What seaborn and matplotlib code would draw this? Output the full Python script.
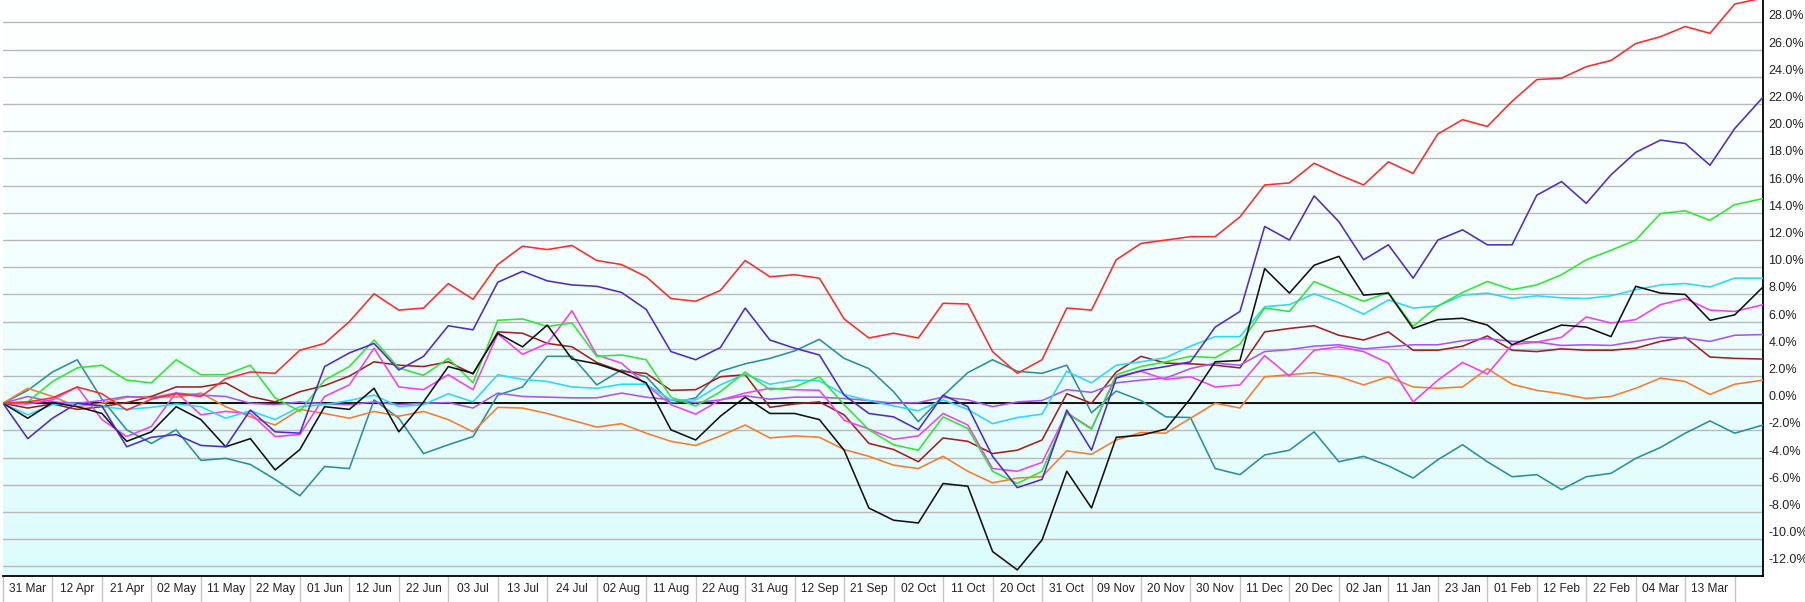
import numpy as np
import pandas as pd
import matplotlib
matplotlib.use("Agg")
import matplotlib.pyplot as plt
import seaborn as sns
from matplotlib.colors import LinearSegmentedColormap
from matplotlib.ticker import FixedLocator, FuncFormatter

# ---------------- data ----------------
date_labels = ["31 Mar", "12 Apr", "21 Apr", "02 May", "11 May", "22 May", "01 Jun",
               "12 Jun", "22 Jun", "03 Jul", "13 Jul", "24 Jul", "02 Aug", "11 Aug",
               "22 Aug", "31 Aug", "12 Sep", "21 Sep", "02 Oct", "11 Oct", "20 Oct",
               "31 Oct", "09 Nov", "20 Nov", "30 Nov", "11 Dec", "20 Dec", "02 Jan",
               "11 Jan", "23 Jan", "01 Feb", "12 Feb", "22 Feb", "04 Mar", "13 Mar"]
DAYS_PER_LABEL = 7          # trading days between two date labels
LAST_DAY = 249              # index of the last trading day

# trading-day index of each sampled value
sample_day = list(np.arange(0, 246, 3.5)) + [249]

red = [0, 0.1, 0.4, 1.2, 0.7, -0.5, 0.3, 0.7, 0.5, 1.8, 2.3, 2.2, 3.9, 4.4, 6.0,
       8.05, 6.85, 7.0, 8.8, 7.65, 10.2, 11.55, 11.3, 11.6, 10.5, 10.2, 9.3, 7.7, 7.5, 8.3,
       10.5, 9.3, 9.45, 9.2, 6.2, 4.8, 5.15, 4.8, 7.35, 7.3, 3.8, 2.2, 3.2, 7.0,
       6.85, 10.55, 11.75, 12.0, 12.25, 12.25, 13.7, 16.05, 16.2, 17.65, 16.8, 16.05, 17.75, 16.9, 19.8,
       20.85, 20.35, 22.2, 23.8, 23.9, 24.75, 25.2, 26.45, 26.95, 27.7, 27.2, 29.35, 29.8]
blue = [0, -2.6, -1.1, 0.0, -0.2, -3.2, -2.5, -2.3, -3.1, -3.2, -0.5, -2.1, -2.2, 2.7, 3.7,
        4.4, 2.45, 3.45, 5.7, 5.4, 8.9, 9.7, 9.0, 8.7, 8.6, 8.15, 6.9, 3.8, 3.2, 4.1,
        7.0, 4.65, 4.05, 3.55, 0.6, -0.75, -1.0, -1.95, 0.6, -0.25, -3.9, -6.2, -5.6, -0.5,
        -3.45, 1.85, 2.4, 2.7, 3.05, 5.6, 6.75, 13.0, 12.0, 15.25, 13.35, 10.55, 11.65, 9.2, 12.0,
        12.75, 11.65, 11.65, 15.3, 16.3, 14.7, 16.8, 18.45, 19.35, 19.1, 17.5, 20.2, 22.5]
green = [0, 0.1, 1.6, 2.6, 2.8, 1.7, 1.5, 3.2, 2.1, 2.1, 2.8, 0.4, -0.6, 1.7, 2.7,
         4.65, 2.6, 2.05, 3.3, 1.5, 6.1, 6.2, 5.65, 5.9, 3.45, 3.55, 3.2, 0.45, -0.2, 0.85,
         2.3, 1.0, 1.2, 1.95, -0.1, -1.95, -3.05, -3.45, -1.0, -1.85, -5.0, -5.9, -5.0, -0.75,
         -1.9, 2.1, 2.7, 3.05, 3.45, 3.35, 4.35, 7.0, 6.75, 8.95, 8.2, 7.5, 8.15, 5.65, 7.15,
         8.15, 8.95, 8.35, 8.7, 9.45, 10.55, 11.25, 12.0, 13.95, 14.15, 13.45, 14.6, 15.05]
cyan = [0, -0.85, -0.1, 0, -0.25, -0.45, -0.3, -0.05, -0.25, -1.1, -0.55, -1.2, -0.25, -0.1, 0.2,
        0.6, -0.25, -0.1, 0.7, 0.1, 2.1, 1.75, 1.6, 1.2, 1.1, 1.4, 1.4, 0.25, 0.25, 1.35,
        2.15, 1.4, 1.7, 1.65, 0.65, 0.2, -0.2, -0.55, 0.25, -0.45, -1.5, -1.05, -0.8, 2.35,
        1.5, 2.8, 3.05, 3.35, 4.2, 4.9, 4.9, 7.1, 7.25, 8.05, 7.4, 6.55, 7.6, 7.0, 7.15,
        7.95, 8.1, 7.7, 7.9, 7.75, 7.7, 7.9, 8.35, 8.7, 8.8, 8.55, 9.2, 9.2]
black = [0, -1.1, 0.05, -0.25, -0.75, -2.8, -2.1, -0.25, -1.2, -3.2, -2.6, -4.9, -3.4, -0.25, -0.45,
         1.1, -2.1, 0.1, 2.7, 2.2, 5.15, 4.15, 5.75, 3.25, 2.9, 2.3, 1.5, -1.95, -2.7, -0.95,
         0.45, -0.75, -0.75, -1.2, -3.45, -7.7, -8.6, -8.8, -5.9, -6.1, -10.9, -12.25, -10.05, -5.0,
         -7.7, -2.5, -2.35, -1.9, 0.35, 3.05, 3.15, 9.9, 8.1, 10.15, 10.8, 7.95, 8.1, 5.5, 6.15,
         6.25, 5.75, 4.3, 5.05, 5.75, 5.6, 4.9, 8.6, 8.1, 8.0, 6.1, 6.5, 8.55]
magenta = [0, -0.05, 0.25, 1.2, -1.2, -2.45, -1.7, 0.8, -0.85, -0.6, -0.75, -2.45, -2.3, 0.5, 1.35,
           4.05, 1.2, 1.0, 2.1, 1.0, 5.1, 3.6, 4.4, 6.8, 3.55, 2.95, 1.35, -0.1, -0.8, 0.25,
           0.75, 1.1, 1.0, 0.95, -1.25, -1.9, -2.65, -2.4, -0.75, -1.6, -4.8, -5.0, -4.35, -0.7,
           -1.85, 1.95, 2.35, 1.75, 1.95, 1.2, 1.35, 3.5, 2.0, 3.9, 4.15, 3.8, 2.95, 0.1, 1.7,
           3.0, 2.15, 4.3, 4.5, 4.85, 6.35, 5.9, 6.15, 7.25, 7.7, 6.85, 6.75, 7.25]
purple = [0, 0.5, 0.1, 0.0, 0.2, 0.5, 0.4, 0.75, 0.6, 0.5, 0.0, -0.1, 0.1, -0.05, -0.1,
          0.1, -0.1, 0.0, 0.05, -0.35, 0.75, 0.5, 0.45, 0.4, 0.4, 0.75, 0.45, 0.25, 0.05, 0.25,
          0.55, 0.3, 0.45, 0.45, 0.35, 0.2, 0.0, 0.05, 0.45, 0.25, -0.25, 0.1, 0.2, 1.0,
          0.8, 1.5, 1.7, 1.85, 2.55, 2.95, 2.8, 3.8, 3.95, 4.2, 4.3, 4.0, 4.15, 4.3, 4.3,
          4.6, 4.75, 4.55, 4.5, 4.25, 4.3, 4.25, 4.55, 4.85, 4.8, 4.55, 5.0, 5.05]
darkred = [0, -0.35, -0.05, -0.45, -0.25, 0.05, 0.5, 1.2, 1.2, 1.5, 0.5, 0.1, 0.85, 1.3, 2.0,
           3.05, 2.8, 2.7, 3.05, 2.15, 5.25, 5.15, 4.4, 4.15, 3.0, 2.35, 2.2, 0.95, 1.0, 1.95,
           2.1, -0.3, -0.05, 0.1, -0.85, -2.95, -3.4, -4.3, -2.55, -2.8, -3.7, -3.45, -2.7, 0.7,
           0.0, 2.3, 3.45, 2.95, 2.9, 2.8, 2.6, 5.25, 5.5, 5.7, 5.0, 4.65, 5.25, 3.9, 3.9,
           4.2, 4.95, 3.9, 3.8, 4.0, 3.9, 3.9, 4.05, 4.55, 4.85, 3.4, 3.3, 3.25]
orange = [0, 1.1, 0.5, -0.25, 0, 0.45, 0.5, 0.45, 0.75, -0.25, -1.0, -1.6, -0.45, -0.75, -1.1,
          -0.6, -0.95, -0.6, -1.2, -2.1, -0.3, -0.35, -0.75, -1.25, -1.75, -1.5, -2.2, -2.8, -3.1, -2.4,
          -1.6, -2.55, -2.4, -2.5, -3.4, -3.9, -4.55, -4.8, -3.9, -5.0, -5.85, -5.5, -5.4, -3.5,
          -3.75, -2.7, -2.15, -2.2, -1.1, 0.0, -0.35, 1.95, 2.1, 2.25, 1.95, 1.35, 1.95, 1.2, 1.1,
          1.2, 2.55, 1.4, 0.95, 0.7, 0.35, 0.5, 1.1, 1.85, 1.6, 0.65, 1.4, 1.7]
teal = [0, 0.95, 2.3, 3.2, 0.3, -1.95, -2.95, -1.95, -4.2, -4.05, -4.5, -5.6, -6.8, -4.65, -4.8,
        0.25, -1.1, -3.7, -3.05, -2.45, 0.6, 1.2, 3.45, 3.45, 1.35, 2.45, 1.95, 0.0, 0.4, 2.35,
        2.9, 3.3, 3.85, 4.7, 3.3, 2.55, 0.85, -1.35, 0.55, 2.25, 3.2, 2.35, 2.2, 2.8,
        -0.7, 0.9, 0.2, -1.0, -1.05, -4.8, -5.25, -3.8, -3.45, -2.1, -4.3, -3.9, -4.6, -5.5, -4.15,
        -3.05, -4.3, -5.4, -5.25, -6.35, -5.4, -5.15, -4.05, -3.25, -2.2, -1.3, -2.2, -1.6]

series = {"teal": teal, "orange": orange, "darkred": darkred, "purple": purple,
          "magenta": magenta, "cyan": cyan, "green": green, "black": black,
          "blue": blue, "red": red}
palette = {"teal": "#2b8f96", "orange": "#f97a2c", "darkred": "#a31f1f", "purple": "#a855f7",
           "magenta": "#f53cf5", "cyan": "#29d9f5", "green": "#2ee82e", "black": "#111111",
           "blue": "#4b2bd0", "red": "#ff2a2a"}

df = pd.concat([pd.DataFrame({"day": sample_day, "value": v, "series": k})
                for k, v in series.items()], ignore_index=True)

# ---------------- figure ----------------
sns.set_theme(style="white")
plt.rcParams["font.family"] = ["Liberation Sans", "DejaVu Sans"]

W, H = 1805, 602
fig = plt.figure(figsize=(W / 100, H / 100), dpi=100)
ax = fig.add_axes([3 / W, 26 / H, 1760 / W, 576 / H])

YMIN, YMAX = -12.7, 29.65
grad = np.linspace(0, 1, 256).reshape(-1, 1)
cmap = LinearSegmentedColormap.from_list("bg", ["#ffffff", "#f2ffff", "#dcfcfc"])
ax.imshow(grad, extent=[0, LAST_DAY, YMIN, YMAX], aspect="auto", cmap=cmap,
          origin="upper", zorder=0, interpolation="bilinear")

sns.lineplot(data=df, x="day", y="value", hue="series", hue_order=list(series.keys()),
             palette=palette, estimator=None, legend=False, linewidth=1.15, ax=ax, zorder=3)
ax.axhline(0, color="black", lw=1.3, zorder=2)

ax.set_xlim(0, LAST_DAY)
ax.set_ylim(YMIN, YMAX)

# y axis on the right
yt = list(range(-12, 29, 2))
ax.yaxis.tick_right()
ax.yaxis.set_major_locator(FixedLocator(yt))
ax.yaxis.set_major_formatter(FuncFormatter(lambda v, p: f"{v:.1f}%"))
ax.tick_params(axis="y", length=0, pad=4, labelsize=9, labelcolor="#222222")
for lbl in ax.get_yticklabels():
    lbl.set_va("bottom")
ax.yaxis.grid(True, color="#b9b9b9", lw=1.0, zorder=1)
ax.xaxis.grid(False)
ax.set_ylabel("")
ax.set_xlabel("")

# x axis: labels in cells separated by thin lines
n = len(date_labels)
cell_edges = [DAYS_PER_LABEL * j for j in range(n + 1)]
cell_centers = [DAYS_PER_LABEL * (j + 0.5) for j in range(n)]
ax.set_xticks(cell_centers)
ax.set_xticklabels(date_labels, fontsize=8.6,
                   fontfamily=["Liberation Sans Narrow", "Liberation Sans", "DejaVu Sans"],
                   color="#222222")
ax.xaxis.set_minor_locator(FixedLocator(cell_edges))
ax.tick_params(axis="x", which="major", length=0, pad=5)
ax.tick_params(axis="x", which="minor", length=19, width=1.0, color="#c4c4c4",
               direction="out", bottom=True)

for s in ["top", "left"]:
    ax.spines[s].set_visible(False)
for s in ["right", "bottom"]:
    ax.spines[s].set_visible(True)
    ax.spines[s].set_color("black")
    ax.spines[s].set_linewidth(1.3)

fig.savefig("out.png", dpi=100, facecolor="white")
